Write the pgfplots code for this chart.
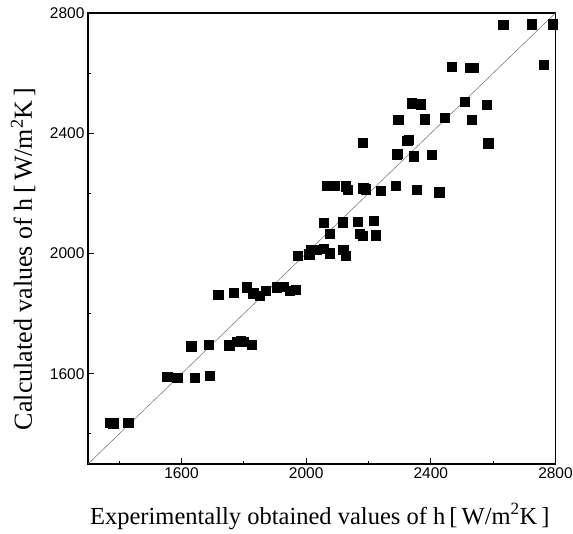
\documentclass[border=0pt]{standalone}
\usepackage{fontspec}
\setmainfont{Liberation Serif}
\newfontfamily\sansfont{Liberation Sans}
\usepackage{pgfplots}
\pgfplotsset{compat=1.18}
\begin{document}
\begin{tikzpicture}
\begin{axis}[
  name=a,
  scale only axis,
  width=467.5pt, height=451pt,
  xmin=1300, xmax=2800, ymin=1300, ymax=2800,
  xtick={1600,2000,2400,2800}, ytick={1600,2000,2400,2800},
  minor xtick={1400,1800,2200,2600}, minor ytick={1400,1800,2200,2600},
  xtick pos=left, ytick pos=left,
  tick align=inside,
  major tick length=6pt, minor tick length=3.5pt,
  axis line style={line width=1.1pt},
  every tick/.style={black, line width=1pt},
  /pgf/number format/assume math mode=true,
  /pgf/number format/1000 sep={},
  tick label style={font=\sansfont\fontsize{15.5}{18}\selectfont},
  xlabel={Experimentally obtained values of h\,[\,W/m\textsuperscript{2}K\,]},
  ylabel={Calculated values of h\,[\,W/m\textsuperscript{2}K\,]},
  xlabel style={font=\fontsize{24.5}{28}\selectfont, at={(axis description cs:0.496,0)}, anchor=base, yshift=-60pt},
  ylabel style={font=\fontsize{26}{30}\selectfont, at={([xshift=-56pt]axis description cs:0,0.455)}, anchor=base},
  clip=false,
]
\addplot[gray, line width=0.6pt] coordinates {(1300,1300) (2800,2800)};
\addplot[only marks, mark=square*, mark size=4.6pt, black] coordinates {
(1371,1438) (1381,1436) (1429,1437)
(1554,1590) (1586,1586) (1642,1588) (1690,1593)
(1631,1692) (1687,1697)
(1753,1695) (1777,1707) (1790,1710) (1800,1708) (1825,1697)
(1718,1864) (1768,1870) (1809,1888) (1830,1868) (1850,1859) (1870,1876)
(1905,1888) (1927,1890) (1946,1876) (1967,1881)
(1973,1993) (2010,1998) (2015,2012) (2034,2014) (2055,2017) (2076,2001) (2119,2012) (2128,1993)
(2055,2103) (2076,2065) (2117,2104) (2165,2106) (2173,2067) (2181,2058) (2217,2109) (2224,2061)
(2066,2226) (2092,2225) (2128,2224) (2132,2213) (2183,2217) (2192,2214) (2239,2209) (2288,2225) (2354,2211) (2427,2204)
(2181,2369) (2290,2328) (2292,2333) (2324,2374) (2328,2378) (2346,2324) (2404,2330) (2584,2367)
(2295,2446) (2381,2447) (2445,2453) (2531,2444)
(2339,2500) (2367,2497) (2509,2505) (2579,2496)
(2466,2621) (2525,2618) (2538,2618) (2762,2627)
(2632,2760) (2723,2763) (2790,2763)
};
\end{axis}
\pgfresetboundingbox
\path ([xshift=-88pt,yshift=-69pt]a.south west) rectangle ([xshift=17.5pt,yshift=13pt]a.north east);
\end{tikzpicture}
\end{document}
